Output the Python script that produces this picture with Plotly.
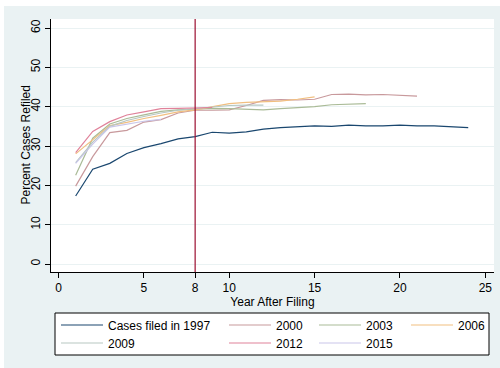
import plotly.graph_objects as go

years_after = list(range(1, 25))

cohorts = ["Cases filed in 1997", "2000", "2003", "2006", "2009", "2012", "2015"]

s1997 = [17.3, 24.1, 25.6, 28.1, 29.6, 30.6, 31.8, 32.4, 33.5, 33.3, 33.6, 34.3,
         34.7, 34.9, 35.1, 35.0, 35.3, 35.1, 35.1, 35.3, 35.1, 35.1, 34.9, 34.7]
s2000 = [19.8, 27.3, 33.4, 34.0, 36.1, 36.7, 38.4, 39.1, 39.1, 39.2, 40.3, 41.6,
         41.8, 41.7, 41.9, 43.1, 43.2, 43.0, 43.1, 42.9, 42.7]
s2003 = [22.6, 32.0, 35.6, 37.0, 37.9, 38.8, 39.2, 39.4, 39.6, 39.5, 39.4, 39.2,
         39.5, 39.8, 40.0, 40.5, 40.7, 40.8]
s2006 = [28.0, 31.5, 35.2, 36.0, 37.0, 37.8, 38.7, 39.2, 40.0, 40.8, 41.1, 41.3,
         41.4, 41.9, 42.5]
s2009 = [25.8, 31.0, 35.0, 36.5, 37.5, 38.4, 39.1, 39.5, 39.8, 40.3, 40.4, 40.4]
s2012 = [28.3, 33.7, 36.2, 37.9, 38.7, 39.5, 39.6, 39.7, 39.8]
s2015 = [25.6, 30.5, 34.8, 35.5, 36.3, 36.8]

series = [s1997, s2000, s2003, s2006, s2009, s2012, s2015]
colors = ["#1a476f", "#c8999c", "#aabb97", "#f1bf80", "#b7c7c2", "#e0829a", "#c9c6e9"]

x_ticks = [0, 5, 8, 10, 15, 20, 25]
y_ticks = [0, 10, 20, 30, 40, 50, 60]
marker_year = 8

x_title = "Year After Filing"
y_title = "Percent Cases Refiled"

W, H = 500, 368
L, R, T, B = 51, 6, 19, 96
pw, ph = W - L - R, H - T - B

def px(xp):
    return (xp - L) / pw

def py(yp):
    return (H - B - yp) / ph

# legend grid: 4 columns, 2 rows (pixel positions of each slot)
col_x = [56, 224, 314, 406]
row_y = [325, 343]
slots = [(0, 0), (1, 0), (2, 0), (3, 0), (0, 1), (1, 1), (2, 1)]

font = dict(family="Liberation Sans, Arial, sans-serif", size=12, color="#000000")

fig = go.Figure()
legends = {}
for i, (name, vals, col, (c, r)) in enumerate(zip(cohorts, series, colors, slots)):
    lid = "legend" if i == 0 else "legend%d" % (i + 1)
    fig.add_trace(go.Scatter(
        x=years_after[:len(vals)], y=vals, mode="lines", name=name,
        line=dict(color=col, width=1.2), legend=lid, showlegend=True))
    legends[lid] = dict(orientation="v", xanchor="left", yanchor="middle",
                        x=px(col_x[c]), y=py(row_y[r]),
                        bgcolor="rgba(0,0,0,0)", borderwidth=0, font=font,
                        itemwidth=42, itemclick=False, itemdoubleclick=False)

fig.update_layout(
    width=W, height=H,
    margin=dict(l=L, r=R, t=T, b=B, pad=0),
    paper_bgcolor="#eaf2f3",
    plot_bgcolor="#ffffff",
    font=font,
    xaxis=dict(range=[-0.445, 25.51], tickvals=x_ticks, ticks="outside", ticklen=5,
               tickcolor="#000000", showline=True, linecolor="#000000", linewidth=1,
               showgrid=False, zeroline=False, tickfont=font,
               title=dict(text=x_title, font=font, standoff=0)),
    yaxis=dict(range=[-2.03, 62.3], tickvals=y_ticks, ticks="outside", ticklen=5,
               tickcolor="#000000", showline=True, linecolor="#000000", linewidth=1,
               showgrid=True, gridcolor="#eaf2f3", gridwidth=1, zeroline=False,
               tickangle=-90, tickfont=font),
    annotations=[
        dict(text=y_title, xref="paper", yref="paper", x=px(25), y=py(145.5),
             xanchor="center", yanchor="middle", textangle=-90, showarrow=False,
             font=font),
    ],
    shapes=[
        dict(type="line", xref="x", yref="paper", x0=marker_year, x1=marker_year,
             y0=0, y1=1, line=dict(color="#9b0f30", width=1.2)),
        dict(type="rect", xref="paper", yref="paper", x0=px(55), x1=px(489),
             y0=py(355), y1=py(313), line=dict(color="#000000", width=1),
             fillcolor="#ffffff", layer="below"),
        dict(type="rect", xref="paper", yref="paper", x0=px(0), x1=px(500),
             y0=py(6), y1=py(0), line=dict(width=0), fillcolor="#ffffff", layer="below"),
        dict(type="rect", xref="paper", yref="paper", x0=px(0), x1=px(4),
             y0=py(368), y1=py(0), line=dict(width=0), fillcolor="#ffffff", layer="below"),
    ],
)
fig.update_layout(**legends)

fig.write_html("out.html")
